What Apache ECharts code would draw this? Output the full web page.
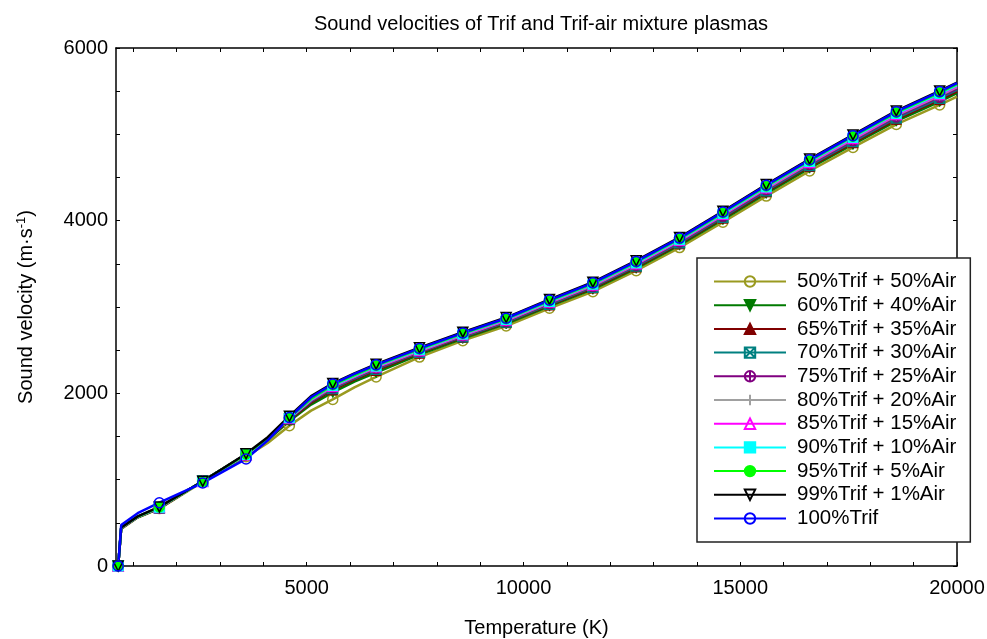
<!DOCTYPE html>
<html>
<head>
<meta charset="utf-8">
<script src="https://cdn.jsdelivr.net/npm/echarts@6/dist/echarts.min.js"></script>
<style>html,body{margin:0;padding:0;background:#fff;}#chart{width:987px;height:639px;}</style>
</head>
<body>
<div id="chart"></div>
<script>
// Temperature grid (K)
var temps = [650, 720, 1100, 1600, 2600, 3600, 4100, 4600, 5100, 5600, 6100, 6600, 7600, 8600, 9600, 10600, 11600, 12600, 13600, 14600, 15600, 16600, 17600, 18600, 19600, 20000];
// Temperatures that carry a marker
var markerTemps = [650, 1600, 2600, 3600, 4600, 5600, 6600, 7600, 8600, 9600, 10600, 11600, 12600, 13600, 14600, 15600, 16600, 17600, 18600, 19600];

var seriesNames = ['50%Trif + 50%Air', '60%Trif + 40%Air', '65%Trif + 35%Air', '70%Trif + 30%Air', '75%Trif + 25%Air', '80%Trif + 20%Air', '85%Trif + 15%Air', '90%Trif + 10%Air', '95%Trif + 5%Air', '99%Trif + 1%Air', '100%Trif'];

var v50  = [0, 430, 562, 665, 975, 1265, 1425, 1625, 1800, 1930, 2070, 2190, 2420, 2610, 2780, 2985, 3178, 3420, 3688, 3982, 4285, 4575, 4848, 5115, 5340, 5437];
var v60  = [0, 435, 565, 668, 985, 1285, 1460, 1680, 1870, 2010, 2135, 2240, 2450, 2635, 2805, 3010, 3205, 3448, 3716, 4012, 4316, 4608, 4882, 5152, 5379, 5476];
var v65  = [0, 438, 567, 670, 985, 1290, 1468, 1695, 1892, 2040, 2160, 2265, 2465, 2648, 2818, 3023, 3220, 3463, 3732, 4029, 4334, 4627, 4902, 5174, 5402, 5499];
var v70  = [0, 440, 568, 672, 985, 1292, 1473, 1705, 1905, 2055, 2172, 2280, 2475, 2656, 2826, 3032, 3230, 3474, 3743, 4041, 4347, 4640, 4916, 5189, 5418, 5515];
var v75  = [0, 440, 569, 674, 983, 1290, 1475, 1708, 1912, 2065, 2181, 2290, 2482, 2664, 2834, 3041, 3240, 3485, 3754, 4053, 4360, 4653, 4930, 5204, 5433, 5530];
var v80  = [0, 442, 570, 676, 982, 1290, 1477, 1712, 1920, 2075, 2190, 2300, 2490, 2672, 2842, 3050, 3249, 3495, 3765, 4065, 4372, 4666, 4944, 5219, 5449, 5546];
var v85  = [0, 443, 571, 678, 980, 1290, 1478, 1715, 1926, 2082, 2196, 2308, 2497, 2679, 2849, 3057, 3256, 3502, 3772, 4073, 4381, 4675, 4953, 5229, 5460, 5557];
var v90  = [0, 445, 572, 680, 980, 1292, 1480, 1718, 1932, 2090, 2203, 2315, 2505, 2686, 2856, 3064, 3264, 3510, 3780, 4082, 4390, 4685, 4964, 5241, 5472, 5569];
var v95  = [0, 447, 573, 682, 980, 1295, 1482, 1720, 1938, 2098, 2210, 2322, 2512, 2693, 2863, 3072, 3272, 3519, 3789, 4091, 4400, 4695, 4975, 5252, 5484, 5581];
var v99  = [0, 445, 575, 684, 982, 1300, 1492, 1735, 1968, 2115, 2232, 2338, 2528, 2708, 2878, 3088, 3288, 3536, 3806, 4108, 4418, 4713, 4993, 5271, 5503, 5600];
var v100 = [0, 475, 612, 733, 962, 1240, 1455, 1720, 1955, 2108, 2225, 2330, 2520, 2700, 2870, 3080, 3280, 3528, 3798, 4100, 4410, 4705, 4985, 5263, 5495, 5592];

var seriesValues = [v50, v60, v65, v70, v75, v80, v85, v90, v95, v99, v100];

// Axis tick / label values
var xLabelValues = [5000, 10000, 15000, 20000];
var xTickValues = [1000, 2000, 3000, 4000, 5000, 6000, 7000, 8000, 9000, 10000, 11000, 12000, 13000, 14000, 15000, 16000, 17000, 18000, 19000, 20000];

var colors = ['#9a9a20', '#007a00', '#800000', '#008080', '#800080', '#a0a0a0', '#ff00ff', '#00ffff', '#00ff00', '#000000', '#0000ff'];

var boxX = 'path://M0,0 L10,0 L10,10 L0,10 Z M0,0 L10,10 M10,0 L0,10';
var circlePlus = 'path://M0,5 A5,5 0 1,0 10,5 A5,5 0 1,0 0,5 Z M5,0 L5,10 M0,5 L10,5';
var plusSym = 'path://M5,0 L5,10 M0,5 L10,5';

// [symbol, rotate, hollow]
var symbolDefs = [
  ['circle', 0, true],
  ['triangle', 180, false],
  ['triangle', 0, false],
  [boxX, 0, true],
  [circlePlus, 0, true],
  [plusSym, 0, true],
  ['triangle', 0, true],
  ['rect', 0, false],
  ['circle', 0, false],
  ['triangle', 180, true],
  ['circle', 0, true]
];

var series = seriesNames.map(function (name, k) {
  var c = colors[k];
  var def = symbolDefs[k];
  return {
    name: name,
    type: 'line',
    data: temps.map(function (t, i) { return [t, seriesValues[k][i]]; }),
    symbol: def[0],
    symbolRotate: def[1],
    symbolSize: function (val) { return markerTemps.indexOf(val[0]) >= 0 ? 10 : 0; },
    showAllSymbol: true,
    clip: true,
    color: c,
    lineStyle: { color: c, width: 2.5 },
    itemStyle: def[2] ? { color: 'rgba(255,255,255,0)', borderColor: c, borderWidth: 1.5, opacity: 1 } : { color: c, borderColor: c, borderWidth: 1 },
    emphasis: { disabled: true },
    animation: false
  };
});

function plain(v) { return String(v); }

var chart = echarts.init(document.getElementById('chart'), null, { renderer: 'canvas' });
var font = 'Liberation Sans, Arial, sans-serif';
chart.setOption({
  backgroundColor: '#ffffff',
  animation: false,
  title: {
    text: 'Sound velocities of Trif and Trif-air mixture plasmas',
    left: 536, top: 9, textAlign: 'center',
    textStyle: { fontFamily: font, fontSize: 20, fontWeight: 'normal', color: '#000' }
  },
  grid: { left: 116, right: 30, top: 48, bottom: 73, outerBoundsMode: 'none', containLabel: false },
  legend: {
    orient: 'vertical',
    left: 697, top: 258,
    data: seriesNames,
    backgroundColor: '#ffffff',
    borderColor: '#222',
    borderWidth: 1.5,
    borderRadius: 0,
    padding: [13, 14, 13, 16],
    itemWidth: 72, itemHeight: 13, itemGap: 2.7,
    selectedMode: false,
    textStyle: { fontFamily: font, fontSize: 20.5, color: '#000', lineHeight: 20, padding: [0, 0, 0, 6] }
  },
  xAxis: [{
    type: 'value', min: 600, max: 20000, position: 'bottom',
    name: 'Temperature (K)', nameLocation: 'middle', nameGap: 52,
    nameTextStyle: { fontFamily: font, fontSize: 20, color: '#000' },
    axisLine: { show: true, onZero: false, lineStyle: { color: '#000', width: 1.5 } },
    axisTick: { show: true, inside: true, length: 4, customValues: xTickValues, lineStyle: { color: '#000' } },
    axisLabel: { customValues: xLabelValues, formatter: plain, margin: 12, fontFamily: font, fontSize: 20, color: '#000' },
    splitLine: { show: false }
  }, {
    type: 'value', min: 600, max: 20000, position: 'top',
    axisLine: { show: true, onZero: false, lineStyle: { color: '#000', width: 1.5 } },
    axisTick: { show: true, inside: true, length: 4, customValues: xTickValues, lineStyle: { color: '#000' } },
    axisLabel: { show: false },
    splitLine: { show: false }
  }],
  yAxis: [{
    type: 'value', min: 0, max: 6000, interval: 2000, position: 'left',
    name: 'Sound velocity (m·s{sup|-1})', nameLocation: 'middle', nameGap: 78, nameRotate: 90,
    nameTextStyle: {
      fontFamily: font, fontSize: 20, color: '#000',
      rich: { sup: { fontFamily: font, fontSize: 13, color: '#000', padding: [0, 0, 10, 0] } }
    },
    axisLine: { show: true, onZero: false, lineStyle: { color: '#000', width: 1.5 } },
    axisTick: { show: true, inside: true, length: 4, lineStyle: { color: '#000' } },
    minorTick: { show: true, splitNumber: 4, length: 4, lineStyle: { color: '#000' } },
    axisLabel: { formatter: plain, margin: 8, fontFamily: font, fontSize: 20, color: '#000' },
    splitLine: { show: false }
  }, {
    type: 'value', min: 0, max: 6000, interval: 2000, position: 'right',
    axisLine: { show: true, onZero: false, lineStyle: { color: '#000', width: 1.5 } },
    axisTick: { show: true, inside: true, length: 4, lineStyle: { color: '#000' } },
    minorTick: { show: true, splitNumber: 4, length: 4, lineStyle: { color: '#000' } },
    axisLabel: { show: false },
    splitLine: { show: false }
  }],
  series: series
});
</script>
</body>
</html>
